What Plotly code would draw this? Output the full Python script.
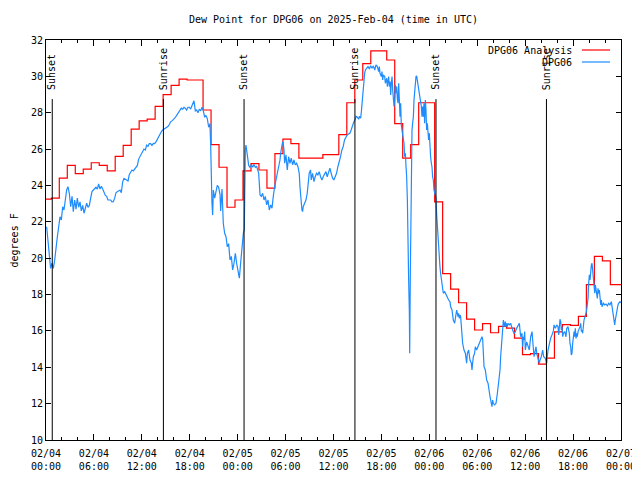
import numpy as np
import pandas as pd
import plotly.graph_objects as go

BASE = pd.Timestamp("2025-02-04 00:00")

# Hourly analysis values (valid from HH:40 until next HH:40); first value covers 00:00-00:40
analysis_values = [
    23.25, 23.3, 24.4, 25.1, 24.65, 24.9, 25.25, 25.1, 24.8, 25.6,
    26.2, 27.1, 27.55, 27.65, 28.35, 29.0, 29.5, 29.85, 29.8, 29.8,
    28.15, 26.25, 25.0, 22.8, 23.2, 24.8, 25.2, 24.85, 23.85, 25.75,
    26.55, 26.3, 25.5, 25.5, 25.5, 25.7, 25.7, 26.8, 28.55, 29.8,
    30.7, 31.4, 31.4, 30.9, 27.4, 25.5, 26.25, 28.55, 28.55, 23.1,
    19.15, 18.3, 17.55, 16.65, 16.05, 16.4, 15.9, 16.25, 16.15, 15.6,
    14.7, 14.75, 14.17, 14.5, 15.95, 16.35, 16.3, 16.8, 18.55, 20.1,
    19.85, 18.55, 18.55]

# Observations: hours after 2025-02-04 00:00 UTC and dew point (F)
obs_hours = [
    0.08, 0.25, 0.42, 0.58, 0.75, 0.92, 1.09, 1.25, 1.42, 1.59, 1.75, 1.92, 2.09, 2.25, 2.42, 2.59, 2.75, 2.92,
    3.09, 3.26, 3.42, 3.59, 3.76, 3.92, 4.09, 4.26, 4.42, 4.59, 4.76, 4.92, 5.09, 5.26, 5.43, 5.59, 5.76, 5.93,
    6.09, 6.26, 6.43, 6.59, 6.76, 6.93, 7.1, 7.26, 7.43, 7.6, 7.76, 7.93, 8.1, 8.26, 8.43, 8.6, 8.76, 8.93,
    9.1, 9.27, 9.43, 9.6, 9.77, 9.93, 10.1, 10.27, 10.43, 10.6, 10.77, 10.94, 11.1, 11.27, 11.44, 11.6, 11.77, 11.94,
    12.1, 12.27, 12.44, 12.6, 12.77, 12.94, 13.1, 13.27, 13.44, 13.61, 13.77, 13.94, 14.11, 14.27, 14.44, 14.61, 14.77, 14.94,
    15.11, 15.27, 15.44, 15.61, 15.78, 15.94, 16.11, 16.28, 16.44, 16.61, 16.78, 16.94, 17.11, 17.28, 17.44, 17.61, 17.78, 17.95,
    18.11, 18.28, 18.45, 18.53, 18.7, 18.86, 19.03, 19.2, 19.37, 19.53, 19.7, 19.87, 20.03, 20.2, 20.37, 20.53, 20.62, 20.7,
    20.78, 20.87, 20.95, 21.12, 21.28, 21.45, 21.62, 21.79, 21.87, 22.04, 22.2, 22.37, 22.54, 22.7, 22.87, 23.04, 23.21, 23.37,
    23.54, 23.71, 23.87, 24.04, 24.21, 24.37, 24.54, 24.71, 24.83, 24.87, 24.96, 25.04, 25.21, 25.38, 25.54, 25.71, 25.88, 26.04,
    26.21, 26.38,
    26.63, 26.71, 26.8, 26.96, 27.13, 27.3, 27.46, 27.63, 27.8, 27.96, 28.13, 28.3, 28.38, 28.46, 28.63, 28.8, 28.96, 29.13,
    29.3, 29.38, 29.55, 29.63, 29.71, 29.8, 29.88, 30.05, 30.21, 30.38, 30.55, 30.71, 30.88, 31.05, 31.21, 31.38, 31.55, 31.71,
    31.8, 31.88, 31.96, 32.05, 32.13, 32.21, 32.38, 32.55, 32.71, 32.88, 32.96, 33.13, 33.21, 33.38, 33.55, 33.71, 33.88, 34.05,
    34.21, 34.38, 34.55, 34.71, 34.88, 35.05, 35.21, 35.38, 35.55, 35.71, 35.88, 36.05, 36.21, 36.38, 36.55, 36.71, 36.88, 37.05,
    37.21, 37.38, 37.55, 37.71, 37.88, 38.05, 38.21, 38.38, 38.55,
    38.73, 38.82, 38.98, 39.15, 39.23, 39.4, 39.49, 39.57, 39.65, 39.74, 39.82, 39.9, 39.99, 40.15, 40.32, 40.49, 40.65, 40.82,
    40.99, 41.16, 41.32, 41.49, 41.66, 41.74, 41.82, 41.99, 42.07, 42.16, 42.24, 42.41, 42.49, 42.66, 42.74, 42.91, 42.99, 43.08,
    43.16, 43.24, 43.33, 43.41, 43.49, 43.58, 43.66, 43.74, 43.83, 43.91, 43.99, 44.08, 44.16, 44.24, 44.33, 44.41, 44.49, 44.66,
    44.83, 44.91, 45.0, 45.08, 45.16, 45.25, 45.33, 45.41, 45.5, 45.54, 45.58, 45.62, 45.66, 45.75, 45.83, 45.91, 46.0, 46.08,
    46.16, 46.25, 46.33, 46.41, 46.5, 46.58, 46.66, 46.75, 46.83, 46.91, 47.0, 47.08, 47.16, 47.25, 47.33, 47.41, 47.5, 47.58,
    47.66, 47.75, 47.83, 47.91, 48.0, 48.08, 48.16, 48.25, 48.33, 48.41, 48.5, 48.58, 48.66, 48.83, 48.91, 49.0, 49.08, 49.16,
    49.25, 49.33, 49.41, 49.58, 49.75, 49.92, 50.09, 50.25, 50.42, 50.59,
    50.67, 50.84, 51.0, 51.17, 51.26, 51.42, 51.59, 51.67, 51.76, 51.84, 51.92, 52.01, 52.09, 52.17, 52.34, 52.51, 52.67, 52.76,
    52.92, 53.01, 53.09, 53.26, 53.34, 53.42, 53.51, 53.67, 53.76, 53.92, 54.09, 54.26, 54.43, 54.59, 54.68, 54.76, 54.85, 55.01,
    55.18, 55.35, 55.43, 55.6, 55.76, 55.85, 55.93, 56.01, 56.18, 56.35, 56.52, 56.68, 56.85, 56.93, 57.02, 57.1, 57.18, 57.27,
    57.35, 57.43, 57.52, 57.6, 57.68, 57.77, 57.85, 58.02, 58.18, 58.27, 58.43, 58.6, 58.77, 58.93, 59.1, 59.27, 59.35, 59.44,
    59.6, 59.69, 59.77, 59.85, 59.94, 60.02, 60.19, 60.36, 60.52, 60.69, 60.86, 60.94, 61.02, 61.11, 61.27, 61.36, 61.44, 61.61,
    61.77, 61.86, 62.02, 62.19, 62.32, 62.53, 62.69, 62.86,
    63.03, 63.19, 63.36, 63.53, 63.61, 63.7, 63.78, 63.95, 64.11, 64.2, 64.28, 64.36, 64.45, 64.53, 64.61, 64.7, 64.78, 64.95,
    65.11, 65.2, 65.36, 65.53, 65.61, 65.7, 65.78, 65.86, 65.95, 66.03, 66.12, 66.2, 66.28, 66.37, 66.45, 66.53, 66.62, 66.78,
    66.87, 66.95, 67.04, 67.12, 67.2, 67.37, 67.45, 67.54, 67.62, 67.7, 67.79, 67.87, 67.95, 68.04, 68.12, 68.2, 68.29, 68.37,
    68.46, 68.54, 68.62, 68.71, 68.79, 68.87, 68.96, 69.04, 69.12, 69.21, 69.29, 69.37, 69.46, 69.54, 69.62, 69.79, 69.96, 70.12,
    70.29, 70.46, 70.62, 70.79, 70.87, 70.96, 71.04, 71.12, 71.21, 71.29, 71.37, 71.54, 71.62, 71.71, 71.87, 72.0]

obs_values = [
    21.73, 21.0, 19.9, 19.44, 19.72, 19.44, 19.9, 20.63, 21.18, 21.73, 22.28, 22.1, 22.83, 22.65, 23.38, 23.75, 23.93, 23.57,
    22.83, 23.4, 22.56, 23.2, 22.7, 23.3, 22.8, 23.1, 22.6, 22.9, 22.47, 22.8, 23.02, 22.8, 22.9, 23.3, 23.66, 23.75,
    23.8, 23.9, 23.8, 24.08, 23.8, 23.95, 23.8, 23.6, 23.45, 23.4, 23.2, 23.2, 23.2, 23.1, 23.11, 23.3, 23.6, 23.66,
    23.7, 23.75, 23.6, 24.2, 24.39, 24.35, 24.3, 24.25, 24.6, 24.75, 24.85, 24.8, 24.9, 25.0, 25.1, 25.45, 25.58, 25.7,
    25.85, 26.0, 25.95, 26.22, 26.15, 26.3, 26.3, 26.2, 26.31, 26.3, 26.4, 26.55, 26.7, 26.85, 26.95, 27.05, 27.1, 27.15,
    27.2, 27.24, 27.35, 27.5, 27.55, 27.6, 27.7, 27.8, 27.9, 28.0, 28.11, 28.25, 28.2, 28.3, 28.25, 28.15, 28.3, 28.3,
    28.2, 28.35, 28.5, 28.66, 28.1, 28.15, 28.0, 28.2, 28.1, 28.3, 28.1, 27.75, 27.85, 27.68, 27.2, 27.4, 26.22, 24.03,
    23.03, 22.37, 23.75, 23.3, 23.6, 24.0, 23.9, 23.5, 22.6, 23.8, 21.92, 21.37, 21.18, 20.63, 20.8, 19.9, 20.1, 19.35,
    19.72, 20.27, 19.72, 19.35, 18.9, 19.72, 20.63, 21.37, 21.6, 25.04, 25.95, 26.22, 25.7, 25.1, 25.0, 25.15, 25.0, 25.15,
    25.0, 25.05,
    24.67, 24.3, 23.48, 23.4, 23.57, 23.2, 23.4, 22.93, 23.2, 22.65, 22.93, 22.75, 23.2, 23.4, 23.93, 24.3, 24.67, 25.2,
    25.4, 25.77, 26.13, 26.4, 26.3, 25.95, 25.22, 25.68, 24.85, 25.58, 25.22, 25.5, 25.13, 25.4, 25.13, 25.22, 25.03, 24.67,
    23.93, 23.38, 23.02, 22.65, 22.56, 22.83, 23.02, 23.2, 23.57, 24.3, 24.67, 24.85, 24.3, 24.67, 24.21, 24.48, 24.67, 24.58,
    24.76, 24.48, 24.3, 24.48, 24.67, 24.76, 24.48, 24.67, 24.95, 24.67, 24.4, 24.3, 24.48, 24.67, 25.03, 25.4, 25.58, 25.95,
    26.13, 26.5, 26.68, 26.77, 26.83, 26.87, 27.05, 27.33, 27.5,
    27.64, 27.8, 27.75, 27.64, 27.8, 27.7, 28.06, 28.52, 29.07, 29.62, 29.9, 30.17, 30.35, 30.45, 30.54, 30.4, 30.58, 30.45,
    30.58, 30.35, 30.63, 30.54, 30.26, 30.54, 30.17, 29.99, 30.26, 29.8, 30.08, 29.99, 29.62, 29.9, 29.44, 29.99, 29.44, 29.72,
    28.98, 29.62, 29.99, 29.26, 28.98, 28.34, 28.7, 29.53, 29.07, 29.44, 28.79, 28.52, 29.62, 28.52, 27.78, 28.52, 27.33, 26.78,
    26.32, 25.58, 25.77, 25.04, 24.49, 23.2, 19.9, 18.8, 16.97, 14.77, 16.97, 19.17, 21.73, 24.12, 27.05, 27.42, 27.78, 28.7,
    29.25, 29.62, 29.99, 30.03, 29.8, 29.62, 29.35, 29.17, 28.98, 28.7, 28.34, 27.78, 28.34, 27.78, 28.52, 27.42, 28.7, 28.15,
    27.05, 27.42, 26.87, 26.5, 26.87, 25.95, 25.58, 25.22, 25.04, 24.49, 24.3, 23.75, 23.57, 23.3, 22.47, 21.73, 21.0, 20.63,
    20.27, 19.53, 19.17, 18.43, 18.07, 18.16, 17.98, 17.89, 17.7, 17.6,
    17.33, 17.15, 16.6, 16.42, 16.78, 17.15, 16.78, 16.97, 16.69, 16.87, 16.78, 16.05, 15.68, 15.32, 14.95, 14.77, 14.22, 14.77,
    14.95, 14.58, 14.4, 14.22, 13.85, 14.22, 14.58, 14.77, 15.13, 14.95, 15.13, 15.4, 15.59, 15.68, 15.53, 14.95, 14.03, 13.85,
    13.3, 13.12, 12.75, 12.38, 12.02, 11.83, 12.2, 12.02, 11.93, 12.02, 12.57, 13.12, 13.85, 14.58, 15.13, 15.32, 15.77, 16.6,
    16.42, 16.23, 16.51, 16.23, 16.42, 16.23, 16.42, 16.33, 16.42, 16.23, 16.05, 15.87, 15.96, 16.14, 16.33, 16.42, 16.05, 15.68,
    15.87, 15.13, 15.68, 15.5, 15.96, 14.95, 15.4, 15.13, 14.95, 15.68, 15.96, 15.5, 14.95, 14.58, 14.95, 15.13, 14.77, 14.49,
    14.22, 14.4, 14.58, 14.95, 14.58, 14.49, 14.22, 14.95,
    15.41, 15.6, 15.78, 16.0, 16.33, 16.23, 16.14, 16.33, 16.23, 15.78, 16.23, 16.64, 16.51, 16.05, 16.23, 15.68, 15.87, 15.96,
    15.68, 16.14, 16.23, 15.87, 15.32, 15.13, 14.68, 14.77, 15.32, 15.68, 15.96, 15.68, 16.14, 15.59, 15.87, 15.68, 15.96, 16.14,
    16.23, 16.42, 15.96, 16.05, 15.87, 16.6, 16.69, 16.78, 16.97, 17.15, 17.52, 17.79, 18.62, 19.08, 18.8, 19.35, 19.63, 19.72,
    19.35, 18.8, 18.62, 18.07, 18.53, 18.25, 17.98, 17.79, 18.34, 18.07, 18.25, 17.89, 17.43, 17.7, 17.33, 17.52, 17.43, 17.48,
    17.38, 17.52, 17.43, 17.61, 17.33, 16.97, 16.78, 16.6, 16.33, 16.6, 16.87, 17.15, 17.43, 17.52, 17.61, 17.55]

event_labels = ["Sunset", "Sunrise", "Sunset", "Sunrise", "Sunset", "Sunrise"]
event_times = ["2025-02-04 00:47", "2025-02-04 14:42", "2025-02-05 00:48",
               "2025-02-05 14:41", "2025-02-06 00:50", "2025-02-06 14:40"]
event_line_top = 28.75
event_label_base = 29.15

y_range = [10, 32]
x_range = [BASE, BASE + pd.Timedelta(hours=72)]

# analysis step times: 00:00 then every hour at :40, plus end of window
ana_times = [BASE] + [BASE + pd.Timedelta(minutes=40 + 60 * n) for n in range(len(analysis_values) - 1)]
ana_times = ana_times + [x_range[1]]
ana_vals = analysis_values + [analysis_values[-1]]

obs_times = BASE + pd.to_timedelta(np.array(obs_hours), unit="h")

FONT = "DejaVu Sans Mono"
RED = "#ff0000"
BLUE = "#1e8cff"

fig = go.Figure()
fig.add_trace(go.Scatter(x=ana_times, y=ana_vals, mode="lines", line=dict(color=RED, width=1.2, shape="hv"),
                         name="DPG06 Analysis", showlegend=False))
fig.add_trace(go.Scatter(x=obs_times, y=obs_values, mode="lines", line=dict(color=BLUE, width=1.2),
                         name="DPG06", showlegend=False))

shapes = []
annotations = []
for lab, t in zip(event_labels, event_times):
    shapes.append(dict(type="line", xref="x", yref="y", x0=t, x1=t, y0=y_range[0], y1=event_line_top,
                       line=dict(color="black", width=1)))
    annotations.append(dict(x=t, y=event_label_base, xref="x", yref="y", text=lab, textangle=-90,
                            showarrow=False, xanchor="center", yanchor="bottom",
                            font=dict(family=FONT, size=10, color="black")))

# legend drawn gnuplot-style (text left of sample)
legend_items = [("DPG06 Analysis", RED, 0.975), ("DPG06", BLUE, 0.945)]
for text, col, yy in legend_items:
    annotations.append(dict(x=0.918, y=yy, xref="paper", yref="paper", text=text, showarrow=False,
                            xanchor="right", yanchor="middle", font=dict(family=FONT, size=10, color="black")))
    shapes.append(dict(type="line", xref="paper", yref="paper", x0=0.932, x1=0.981, y0=yy, y1=yy,
                       line=dict(color=col, width=1.2)))

annotations.append(dict(x=-0.0548, y=0.5, xref="paper", yref="paper", text="degrees F", textangle=-90,
                        showarrow=False, xanchor="center", yanchor="middle",
                        font=dict(family=FONT, size=10, color="black")))

# the page body has an 8px default margin, so the figure is 632x472 (offset by 8px)
fig.update_layout(
    width=632, height=472,
    margin=dict(l=38, r=19, t=32, b=40, autoexpand=False),
    paper_bgcolor="white", plot_bgcolor="white",
    font=dict(family=FONT, size=10, color="black"),
    title=dict(text="Dew Point for DPG06 on 2025-Feb-04 (time in UTC)", x=0.5, xref="paper",
               y=1 - 11 / 472, yref="container", xanchor="center", yanchor="middle",
               font=dict(family=FONT, size=10, color="black")),
    shapes=shapes, annotations=annotations, showlegend=False,
)
fig.update_xaxes(type="date", range=x_range, tick0=BASE, dtick=6 * 3600 * 1000, tickformat="%m/%d<br>%H:%M",
                 ticks="inside", ticklen=6, tickcolor="black", mirror="allticks", showline=True,
                 linecolor="black", linewidth=1, showgrid=False, zeroline=False, ticklabelstandoff=4,
                 automargin=False,
                 minor=dict(dtick=2 * 3600 * 1000, ticks="inside", ticklen=3, tickcolor="black", showgrid=False),
                 tickfont=dict(family=FONT, size=10, color="black"))
fig.update_yaxes(range=y_range, dtick=2, ticks="inside", ticklen=5, tickcolor="black", mirror="allticks",
                 showline=True, linecolor="black", linewidth=1, showgrid=False, zeroline=False,
                 automargin=False,
                 tickfont=dict(family=FONT, size=10, color="black"))

fig.write_html("out.html")
